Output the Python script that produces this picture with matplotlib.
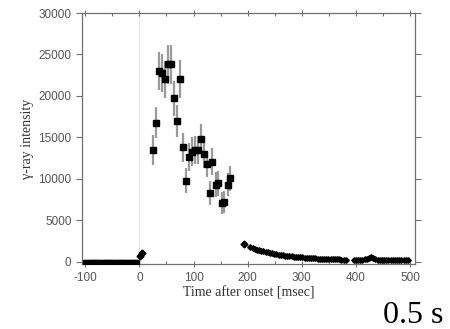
import numpy as np
import matplotlib.pyplot as plt
from matplotlib.ticker import MultipleLocator

plt.rcParams['axes.unicode_minus'] = False

# burst peak, binned counts with errors
t_peak = [26, 31, 37, 42, 48, 53, 59, 64, 70, 75, 81, 86, 92, 97,
          103, 108, 113, 119, 125, 130, 135, 141, 146, 152, 157, 163, 168]
i_peak = [13500, 16800, 23000, 22800, 22000, 23800, 23800, 19700, 17000,
          22000, 13800, 9800, 12600, 13300, 13500, 13500, 14800, 13000,
          11800, 8300, 12100, 9300, 9500, 7100, 7200, 9300, 10100]
e_peak = [1800, 1900, 2300, 2300, 2200, 2400, 2400, 2100, 1900, 2300,
          1700, 1500, 1700, 1700, 1700, 1700, 1800, 1700, 1600, 1400,
          1600, 1500, 1500, 1300, 1300, 1400, 1500]

# onset and late points
t_onset = [2, 5, 193]
i_onset = [700, 1100, 2200]

# background before onset
t_pre = np.arange(-100, 0, 4)
i_pre = [0] * len(t_pre)

# afterglow, first segment
t_tail1 = np.arange(205, 382, 4)
i_tail1 = [1750, 1650, 1550, 1480, 1400, 1330, 1270, 1200, 1140, 1080,
           1020, 970, 920, 880, 840, 800, 760, 720, 690, 660, 630, 600,
           580, 560, 540, 520, 500, 480, 460, 440, 430, 410, 400, 390,
           370, 360, 350, 340, 330, 320, 310, 300, 290, 280, 270]

# afterglow, second segment
t_tail2 = np.arange(396, 497, 4)
i_tail2 = [250, 230, 260, 240, 270, 300, 350, 450, 650, 450, 330, 280,
           260, 250, 240, 230, 250, 240, 230, 220, 230, 220, 210, 220,
           210, 200]

fig = plt.figure(figsize=(4.5, 3.29), dpi=100)
ax = fig.add_axes([82 / 450, 1 - 264 / 329, (415 - 82) / 450, (264 - 13) / 329])

ax.axvline(0, color='#e4e4e4', linewidth=0.8, zorder=0)

ax.plot(t_pre, i_pre, 's', color='black', markersize=2.2, zorder=3)
ax.errorbar(t_peak, i_peak, yerr=e_peak, fmt='s', color='black',
            markersize=5, ecolor='#9a9a9a', elinewidth=1.6, capsize=0, zorder=3)
ax.plot(t_onset, i_onset, 'D', color='black', markersize=3.5, zorder=3)
ax.plot(t_tail1, i_tail1, 'D', color='black', markersize=2.8, zorder=3)
ax.plot(t_tail2, i_tail2, 'D', color='black', markersize=2.8, zorder=3)

ax.set_xlim(-106, 509)
ax.set_ylim(-250, 30000)
ax.xaxis.set_major_locator(MultipleLocator(100))
ax.xaxis.set_minor_locator(MultipleLocator(50))
ax.yaxis.set_major_locator(MultipleLocator(5000))

for sp in ax.spines.values():
    sp.set_color('#707070')
    sp.set_linewidth(0.9)

ax.tick_params(axis='both', which='major', labelsize=8.5, labelcolor='#555555',
               color='#707070', length=4, width=0.8)
ax.tick_params(axis='x', which='major', direction='inout', top=True, length=4)
ax.tick_params(axis='x', which='minor', direction='in', top=True, length=2.5,
               color='#707070', width=0.8)
ax.tick_params(axis='y', which='major', direction='out', right=True)
for lab in ax.get_xticklabels() + ax.get_yticklabels():
    lab.set_family('Liberation Sans')

ax.set_xlabel('Time after onset [msec]', family='Liberation Serif',
              fontsize=10, color='#333333', labelpad=2)
ax.set_ylabel('γ-ray intensity', family='Liberation Serif',
              fontsize=10, color='#333333', labelpad=3)

fig.text(413 / 450, 1 - 323 / 329, '0.5 s', family='Liberation Serif',
         fontsize=23, color='black', ha='center', va='baseline')

fig.savefig('out.png', dpi=100)
